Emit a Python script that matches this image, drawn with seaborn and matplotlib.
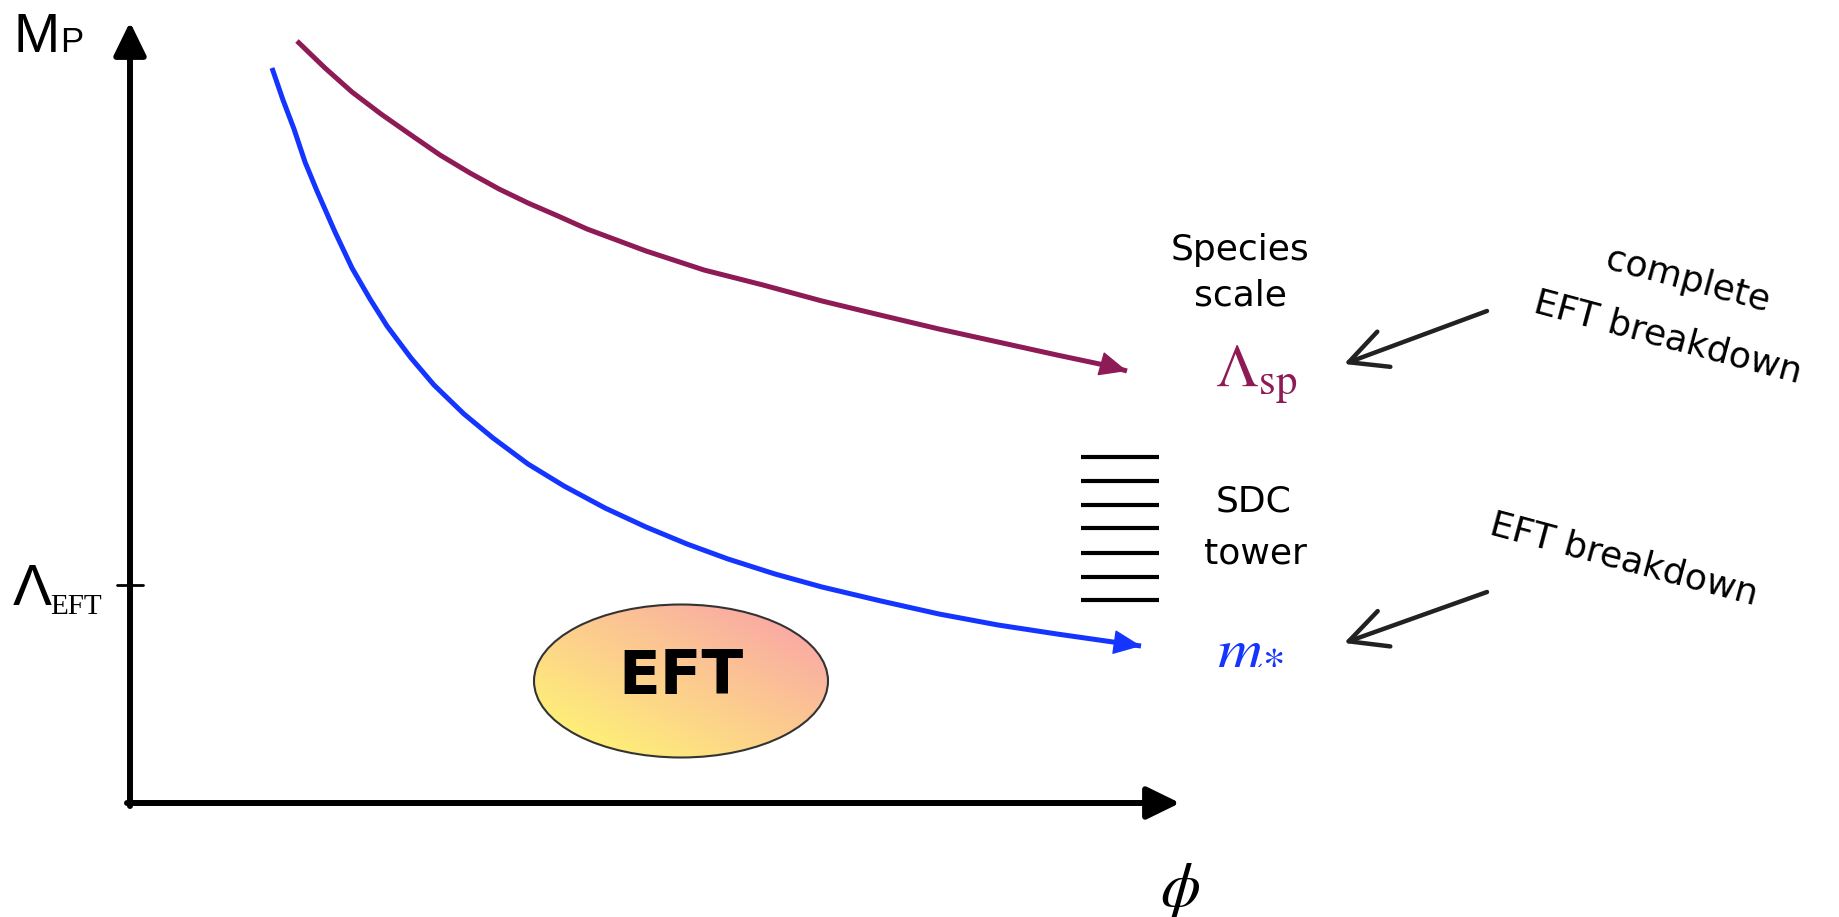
import numpy as np
import matplotlib
matplotlib.use("Agg")
import matplotlib.pyplot as plt
import seaborn as sns
from matplotlib.patches import Ellipse

# ─────────────────────────────────────────────
# Schematic: species scale vs. tower scale along the field distance phi
# Coordinates are in figure pixels (1840 x 917), y grows downward
# ─────────────────────────────────────────────

PURPLE = "#8E1B55"
BLUE   = "#1434FF"

# curves
sp_x = [297, 325, 352, 381, 411, 440, 470, 499, 528, 558, 587, 646, 704, 763, 822, 880,
        939, 998, 1057, 1109, 1127]
sp_y = [41, 68, 92, 114, 135, 155, 173, 189, 203, 216, 229, 251, 270, 285, 301, 315,
        329, 342, 355, 366, 371]

mstar_x = [272, 283, 294, 305, 317, 335, 352, 370, 387, 411, 434, 464, 493, 528, 564,
           605, 646, 687, 728, 775, 822, 881, 939, 998, 1057, 1141]
mstar_y = [68, 100, 129, 162, 191, 232, 268, 299, 326, 358, 385, 414, 438, 464, 486,
           508, 527, 544, 559, 574, 587, 601, 614, 625, 634, 646]

tower_levels = [457, 481, 505, 528, 553, 577, 600]
lambda_eft_level = 585

sns.set_theme(style="white")
plt.rcParams["font.family"] = ["DejaVu Sans"]
plt.rcParams["text.color"] = "black"
plt.rcParams["mathtext.fontset"] = "stix"

fig = plt.figure(figsize=(18.4, 9.17), dpi=100)
ax = fig.add_axes([0, 0, 1, 1])
ax.set_xlim(0, 1840)
ax.set_ylim(917, 0)
ax.axis("off")

# axes arrows
axis_arrow = dict(arrowstyle="-|>,head_length=0.45,head_width=0.22", color="black",
                  lw=4.3, mutation_scale=45, shrinkA=0, shrinkB=0)
ax.annotate("", xy=(130, 22), xytext=(130, 806), arrowprops=axis_arrow)
ax.annotate("", xy=(1180, 803), xytext=(127, 803), arrowprops=axis_arrow)

# Lambda_EFT tick
ax.plot([117, 143], [lambda_eft_level, lambda_eft_level], color="black", lw=2)

# axis labels
ax.text(14, 52, "M", fontsize=40, family="Liberation Sans", ha="left", va="baseline")
ax.text(60, 52, "P", fontsize=25, family="Liberation Sans", ha="left", va="baseline")
ax.text(13, 605, "Λ", fontsize=42, family="Liberation Sans", ha="left", va="baseline")
ax.text(50, 614, "EFT", fontsize=21, family="Liberation Serif", ha="left", va="baseline")
ax.text(1180, 890, r"$\phi$", fontsize=46, ha="center", va="center")

# curves
sns.lineplot(x=sp_x, y=sp_y, sort=False, color=PURPLE, lw=3.6, ax=ax,
             solid_capstyle="butt")
sns.lineplot(x=mstar_x, y=mstar_y, sort=False, color=BLUE, lw=3.6, ax=ax,
             solid_capstyle="butt")
curve_head = dict(arrowstyle="-|>,head_length=0.45,head_width=0.2", lw=1,
                  mutation_scale=40, shrinkA=0, shrinkB=0)
ax.annotate("", xy=(sp_x[-1], sp_y[-1]), xytext=(sp_x[-2], sp_y[-2]),
            arrowprops=dict(curve_head, color=PURPLE))
ax.annotate("", xy=(mstar_x[-1], mstar_y[-1]), xytext=(mstar_x[-2], mstar_y[-2]),
            arrowprops=dict(curve_head, color=BLUE))

# SDC tower
ax.hlines(tower_levels, 1081, 1159, color="black", lw=3)

# labels on the right
ax.text(1240, 250, "Species", fontsize=26, ha="center", va="center")
ax.text(1240, 295, "scale", fontsize=26, ha="center", va="center")
ax.text(1256, 375, r"$\Lambda_{\rm sp}$", fontsize=44, color=PURPLE, ha="center", va="center")
ax.text(1254, 502, "SDC", fontsize=26, ha="center", va="center")
ax.text(1255, 553, "tower", fontsize=26, ha="center", va="center")
ax.text(1250, 645, r"$m_{*}$", fontsize=46, color=BLUE, ha="center", va="center")

ax.text(1688, 280, "complete", fontsize=26, rotation=-15, ha="center", va="center")
ax.text(1668, 338, "EFT breakdown", fontsize=26, rotation=-15, ha="center", va="center")
ax.text(1624, 560, "EFT breakdown", fontsize=26, rotation=-15, ha="center", va="center")

sketch_arrow = dict(arrowstyle="->,head_length=0.9,head_width=0.45", color="#222222",
                    lw=3.2, mutation_scale=30, shrinkA=0, shrinkB=0)
ax.annotate("", xy=(1344, 364), xytext=(1487, 311), arrowprops=sketch_arrow)
ax.annotate("", xy=(1344, 643), xytext=(1487, 592), arrowprops=sketch_arrow)

# EFT blob with gradient fill
ecx, ecy, ew, eh = 681, 681, 294, 153
blob = Ellipse((ecx, ecy), ew, eh, facecolor="none", edgecolor="#333333", lw=1.5, zorder=3)
ax.add_patch(blob)
u, v = np.meshgrid(np.linspace(0, 1, 200), np.linspace(0, 1, 200))
t = np.clip((u + v) / 2, 0, 1)[..., None]
yellow = np.array([255, 252, 112]) / 255
pink = np.array([249, 158, 172]) / 255
grad = yellow * (1 - t) + pink * t
img = ax.imshow(grad, extent=(ecx - ew / 2, ecx + ew / 2, ecy + eh / 2, ecy - eh / 2),
                origin="lower", zorder=2, aspect="auto")
img.set_clip_path(blob)
ax.set_xlim(0, 1840)
ax.set_ylim(917, 0)
ax.text(ecx, ecy - 4, "EFT", fontsize=44, fontweight="bold", color="black",
        ha="center", va="center", zorder=4)

plt.savefig("out.png", dpi=100)
plt.close()
